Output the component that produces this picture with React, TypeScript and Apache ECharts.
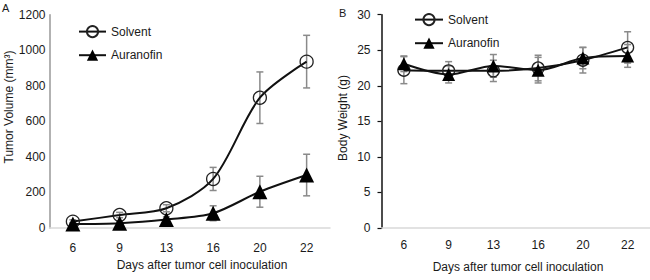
import React, { useEffect, useRef } from "react";
import * as echarts from "echarts";

const categories = ["6", "9", "13", "16", "20", "22"];

const tumorSolvent = [36, 73, 111, 276, 733, 936];
const tumorSolventErr = [10, 15, 20, 65, 145, 148];
const tumorAuranofin = [22, 27, 48, 83, 204, 298];
const tumorAuranofinErr = [8, 10, 15, 42, 87, 117];

const weightSolvent = [22.2, 22.1, 22.1, 22.5, 23.6, 25.4];
const weightSolventErr = [1.9, 1.3, 1.5, 1.8, 1.8, 2.2];
const weightAuranofin = [23.1, 21.6, 22.8, 22.2, 23.9, 24.2];
const weightAuranofinErr = [1.1, 1.2, 1.6, 1.8, 1.5, 1.6];

const FONT = "Liberation Sans, Arial, sans-serif";
const TXT = "#1a1a1a";

function errData(vals: number[], errs: number[]) {
  return vals.map((v, i) => [i, v - errs[i], v + errs[i]]);
}

function errSeries(xi: number, vals: number[], errs: number[]) {
  return {
    type: "custom",
    xAxisIndex: xi,
    yAxisIndex: xi,
    z: 1,
    silent: true,
    data: errData(vals, errs),
    renderItem: (params: any, api: any) => {
      const idx = api.value(0);
      const lo = api.coord([idx, api.value(1)]);
      const hi = api.coord([idx, api.value(2)]);
      const x = lo[0];
      const w = 3.5;
      const style = { stroke: "#8a8a8a", lineWidth: 1.5 };
      return {
        type: "group",
        children: [
          { type: "line", shape: { x1: x, y1: lo[1], x2: x, y2: hi[1] }, style },
          { type: "line", shape: { x1: x - w, y1: lo[1], x2: x + w, y2: lo[1] }, style },
          { type: "line", shape: { x1: x - w, y1: hi[1], x2: x + w, y2: hi[1] }, style },
        ],
      };
    },
  };
}

function solventSeries(xi: number, vals: number[], size: number) {
  return {
    name: "Solvent",
    type: "line",
    xAxisIndex: xi,
    yAxisIndex: xi,
    z: 3,
    data: vals,
    smooth: 0.3,
    symbol: "circle",
    symbolSize: size,
    lineStyle: { color: "#111", width: 2 },
    itemStyle: { color: "rgba(255,255,255,0)", borderColor: "#222", borderWidth: 1.3 },
  };
}

function auranofinSeries(xi: number, vals: number[], size: number) {
  return {
    name: "Auranofin",
    type: "line",
    xAxisIndex: xi,
    yAxisIndex: xi,
    z: 4,
    data: vals,
    smooth: 0.3,
    symbol: "triangle",
    symbolSize: size,
    lineStyle: { color: "#111", width: 2 },
    itemStyle: { color: "#000", borderColor: "#000", borderWidth: 0 },
  };
}

export default function App() {
  const ref = useRef<HTMLDivElement>(null);
  useEffect(() => {
    if (!ref.current) return;
    const chart = echarts.init(ref.current, null, { renderer: "svg" });
    const xAxisCommon = (gi: number, margin: number) => ({
      type: "category",
      gridIndex: gi,
      data: categories,
      boundaryGap: true,
      axisLine: { lineStyle: { color: "#d9d9d9", width: 1.5 } },
      axisTick: { show: false },
      axisLabel: { color: TXT, fontSize: 12, fontFamily: FONT, margin },
      splitLine: { show: false },
    });
    const option: any = {
      animation: false,
      backgroundColor: "#fff",
      textStyle: { fontFamily: FONT },
      grid: [
        { left: 49.5, top: 14.7, width: 280.5, height: 213.3 },
        { left: 381.5, top: 14.7, width: 268.5, height: 213.3 },
      ],
      xAxis: [xAxisCommon(0, 14), xAxisCommon(1, 11)],
      yAxis: [
        {
          type: "value",
          gridIndex: 0,
          min: 0,
          max: 1200,
          interval: 200,
          axisLine: { show: true, lineStyle: { color: "#999", width: 1.5 } },
          axisTick: { show: false },
          axisLabel: { color: TXT, fontSize: 12, fontFamily: FONT, margin: 4, formatter: (v: number) => String(v) },
          splitLine: { show: false },
        },
        {
          type: "value",
          gridIndex: 1,
          min: 0,
          max: 30,
          interval: 5,
          axisLine: { show: true, lineStyle: { color: "#111", width: 1.5 } },
          axisTick: { show: true, length: 4, lineStyle: { color: "#111", width: 1.2 } },
          axisLabel: { color: TXT, fontSize: 12, fontFamily: FONT, margin: 11 },
          splitLine: { show: false },
        },
      ],
      legend: [
        {
          left: 73,
          top: 20,
          orient: "vertical",
          itemWidth: 27,
          itemHeight: 14,
          itemGap: 11,
          textStyle: { color: TXT, fontSize: 12, fontFamily: FONT },
          data: ["Solvent", "Auranofin"],
        },
        {
          left: 409,
          top: 8,
          orient: "vertical",
          itemWidth: 28,
          itemHeight: 14,
          itemGap: 11,
          textStyle: { color: TXT, fontSize: 12, fontFamily: FONT },
          data: ["Solvent", "Auranofin"],
        },
      ],
      graphic: [
        { type: "text", left: 2, top: 2, style: { text: "A", fontSize: 11, fontFamily: FONT, fill: TXT } },
        { type: "text", left: 339, top: 7, style: { text: "B", fontSize: 11, fontFamily: FONT, fill: TXT } },
        {
          type: "text",
          x: 9,
          y: 107,
          rotation: Math.PI / 2,
          style: { text: "Tumor Volume (mm³)", fontSize: 12, fontFamily: FONT, fill: TXT, align: "center", verticalAlign: "middle" },
        },
        {
          type: "text",
          x: 343,
          y: 118,
          rotation: Math.PI / 2,
          style: { text: "Body Weight (g)", fontSize: 12, fontFamily: FONT, fill: TXT, align: "center", verticalAlign: "middle" },
        },
        {
          type: "text",
          x: 202,
          y: 265,
          style: { text: "Days after tumor cell inoculation", fontSize: 12, fontFamily: FONT, fill: TXT, align: "center", verticalAlign: "middle" },
        },
        {
          type: "text",
          x: 518,
          y: 267,
          style: { text: "Days after tumor cell inoculation", fontSize: 12, fontFamily: FONT, fill: TXT, align: "center", verticalAlign: "middle" },
        },
      ],
      series: [
        errSeries(0, tumorSolvent, tumorSolventErr),
        errSeries(0, tumorAuranofin, tumorAuranofinErr),
        solventSeries(0, tumorSolvent, 13),
        auranofinSeries(0, tumorAuranofin, 15),
        errSeries(1, weightSolvent, weightSolventErr),
        errSeries(1, weightAuranofin, weightAuranofinErr),
        solventSeries(1, weightSolvent, 12),
        auranofinSeries(1, weightAuranofin, 13),
      ],
    };
    chart.setOption(option);
    return () => chart.dispose();
  }, []);
  return <div ref={ref} style={{ width: 650, height: 280, position: "absolute", left: 0, top: 0 }} />;
}
